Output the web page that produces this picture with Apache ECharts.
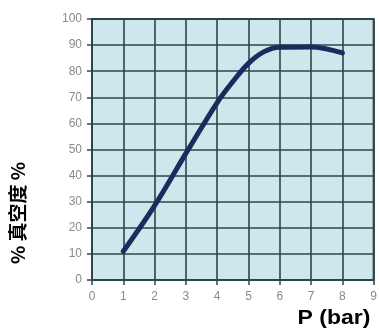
<!DOCTYPE html>
<html>
<head>
<meta charset="utf-8">
<script src="https://cdn.jsdelivr.net/npm/echarts@6/dist/echarts.min.js"></script>
<style>
  html, body { margin: 0; padding: 0; background: #ffffff; }
  #chart { width: 380px; height: 331px; }
</style>
</head>
<body>
<div id="chart"></div>
<script>
// Pressure (bar) vs. vacuum level (%)
const pressure = [1, 2, 3, 4, 4.5, 5, 5.5, 6, 7, 8];
const vacuum = [11, 28.5, 48.5, 68, 76, 83, 87.5, 89.2, 89.3, 87];
const xTicks = [0, 1, 2, 3, 4, 5, 6, 7, 8, 9];
const yTicks = [0, 10, 20, 30, 40, 50, 60, 70, 80, 90, 100];

const gridColor = '#2c4648';
const tickLabelColor = '#8a8a8a';

const chart = echarts.init(document.getElementById('chart'));
chart.setOption({
  animation: false,
  grid: {
    left: 92, right: 5, top: 19, bottom: 51,
    show: true,
    backgroundColor: '#cde7ec',
    borderColor: gridColor,
    borderWidth: 2
  },
  xAxis: {
    type: 'value',
    min: xTicks[0], max: xTicks[xTicks.length - 1], interval: 1,
    axisLine: { show: true, lineStyle: { color: gridColor, width: 2 } },
    axisTick: { show: true, length: 5, lineStyle: { color: gridColor, width: 1.5 } },
    axisLabel: { color: tickLabelColor, fontSize: 12, margin: 11, fontFamily: 'Liberation Sans' },
    splitLine: { show: true, lineStyle: { color: gridColor, width: 1.6 } }
  },
  yAxis: {
    type: 'value',
    min: yTicks[0], max: yTicks[yTicks.length - 1], interval: 10,
    axisLine: { show: true, lineStyle: { color: gridColor, width: 2 } },
    axisTick: { show: true, length: 5, lineStyle: { color: gridColor, width: 1.5 } },
    axisLabel: { color: tickLabelColor, fontSize: 12, margin: 10, fontFamily: 'Liberation Sans' },
    splitLine: { show: true, lineStyle: { color: gridColor, width: 1.6 } }
  },
  graphic: [
    {
      type: 'text',
      x: 18, y: 213,
      rotation: Math.PI / 2,
      style: {
        text: '% 真空度 %',
        fill: '#000',
        font: 'bold 19px "Noto Sans CJK SC", "Liberation Sans", sans-serif',
        align: 'center',
        verticalAlign: 'middle'
      }
    },
    {
      type: 'text',
      x: 334, y: 318,
      scaleX: 1.15,
      style: {
        text: 'P (bar)',
        fill: '#000',
        font: 'bold 20px "Liberation Sans", Arial, sans-serif',
        align: 'center',
        verticalAlign: 'middle'
      }
    }
  ],
  series: [{
    type: 'line',
    data: pressure.map((p, i) => [p, vacuum[i]]),
    smooth: 0.35,
    symbol: 'none',
    lineStyle: { color: '#1b2b5e', width: 5, cap: 'round' }
  }]
});
</script>
</body>
</html>
